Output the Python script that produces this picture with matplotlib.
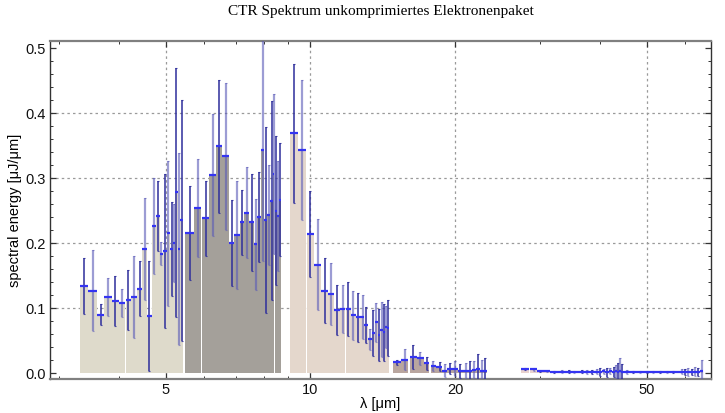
import numpy as np
import matplotlib
matplotlib.use('Agg')
import matplotlib.pyplot as plt
from matplotlib.ticker import FixedLocator, MultipleLocator, NullFormatter, FormatStrFormatter

# wavelength [um], spectral energy [uJ/um] and its uncertainty, per detector block
lam1 = [3.387, 3.530, 3.667, 3.798, 3.934, 4.060, 4.186, 4.299, 4.418, 4.525, 4.628,
        4.730, 4.821, 4.900, 4.985, 5.067, 5.147, 5.214, 5.264, 5.330, 5.399]
val1 = [0.134, 0.127, 0.090, 0.117, 0.111, 0.108, 0.112, 0.117, 0.130, 0.191, 0.088,
        0.227, 0.242, 0.184, 0.188, 0.215, 0.191, 0.200, 0.278, 0.191, 0.235]
err1 = [0.043, 0.062, 0.016, 0.029, 0.039, 0.021, 0.046, 0.063, 0.042, 0.078, 0.084,
        0.074, 0.054, 0.018, 0.119, 0.112, 0.073, 0.060, 0.191, 0.147, 0.185]
gap1 = [5]

lam2 = [5.610, 5.837, 6.056, 6.270, 6.465, 6.662, 6.855, 7.031, 7.214, 7.364, 7.543,
        7.689, 7.827, 7.951, 8.077, 8.193, 8.300, 8.392, 8.472, 8.541, 8.624]
val2 = [0.216, 0.254, 0.238, 0.305, 0.349, 0.334, 0.200, 0.212, 0.232, 0.247, 0.232,
        0.198, 0.240, 0.343, 0.235, 0.243, 0.265, 0.306, 0.250, 0.242, 0.267]
err2 = [0.072, 0.075, 0.057, 0.094, 0.102, 0.113, 0.066, 0.083, 0.050, 0.070, 0.075,
        0.070, 0.069, 0.170, 0.143, 0.077, 0.153, 0.123, 0.115, 0.085, 0.087]
gap2 = [1, 17]

lam3 = [9.251, 9.611, 9.986, 10.354, 10.707, 11.056, 11.360, 11.668, 11.973, 12.263, 12.560,
        12.837, 13.049, 13.301, 13.511, 13.705, 13.884, 14.058, 14.221, 14.329, 14.468]
val3 = [0.369, 0.343, 0.214, 0.167, 0.127, 0.122, 0.097, 0.099, 0.099, 0.089, 0.086,
        0.086, 0.074, 0.052, 0.062, 0.078, 0.058, 0.067, 0.063, 0.071, 0.070]
err3 = [0.107, 0.108, 0.066, 0.070, 0.050, 0.048, 0.038, 0.037, 0.042, 0.038, 0.038,
        0.034, 0.028, 0.016, 0.035, 0.030, 0.040, 0.042, 0.044, 0.032, 0.043]
gap3 = [1, 7]

lam4 = [15.13, 15.72, 16.33, 16.91, 17.46, 17.97, 18.55, 18.99, 19.52, 19.99, 20.47,
        21.00, 21.41, 21.89, 22.24, 22.71, 23.08]
val4 = [0.017, 0.021, 0.025, 0.023, 0.015, 0.011, 0.010, 0.004, 0.007, 0.007, 0.003,
        0.004, 0.004, 0.005, 0.007, 0.003, 0.004]
err4 = [0.004, 0.016, 0.018, 0.010, 0.010, 0.008, 0.007, 0.010, 0.009, 0.011, 0.011,
        0.012, 0.014, 0.013, 0.023, 0.017, 0.019]
gap4 = [1, 4]

lam5 = [27.93, 29.06, 30.01, 30.98, 31.98, 33.29, 34.36, 35.19, 36.63, 37.52, 38.42, 39.35,
        39.98, 40.61, 41.28, 41.93, 42.60, 43.15, 43.62, 43.98, 44.34, 45.41, 46.86, 48.38,
        49.95, 51.55, 53.23, 54.95, 56.72, 59.04, 59.98, 60.94, 61.93, 62.92, 63.92, 64.97]
val5 = [0.006, 0.006, 0.003, 0.003, 0.0025, 0.0025, 0.0025, 0.002, 0.0025, 0.002, 0.002, 0.002,
        0.0015, 0.003, 0.0015, 0.003, 0.002, 0.003, 0.002, 0.003, 0.002, 0.002, 0.002, 0.002,
        0.002, 0.002, 0.0015, 0.002, 0.002, 0.002, 0.002, 0.002, 0.002, 0.002, 0.002, 0.003]
err5 = [0.0015, 0.002, 0.001, 0.001, 0.0015, 0.002, 0.002, 0.002, 0.002, 0.003, 0.003, 0.004,
        0.006, 0.004, 0.007, 0.005, 0.008, 0.010, 0.014, 0.020, 0.012, 0.003, 0.002, 0.002,
        0.002, 0.002, 0.002, 0.002, 0.002, 0.004, 0.005, 0.006, 0.005, 0.007, 0.006, 0.018]
gap5 = [0]

blocks = [
    (lam1, val1, err1, gap1, '#dedacb'),
    (lam2, val2, err2, gap2, '#a4a09a'),
    (lam3, val3, err3, gap3, '#e4d7cc'),
    (lam4, val4, err4, gap4, '#b9a69f'),
    (lam5, val5, err5, gap5, '#e8d2ce'),
]


def bin_edges(lam, gaps, slit=0.0013):
    # histogram edges halfway (in log) between neighbouring channels
    c = np.log10(lam)
    mid = (c[1:] + c[:-1]) / 2
    left = np.concatenate([[c[0] - (c[1] - c[0]) / 2], mid])
    right = np.concatenate([mid, [c[-1] + (c[-1] - c[-2]) / 2]])
    for g in gaps:
        right[g] -= slit
        left[g + 1] += slit
    return 10 ** left, 10 ** right


fig = plt.figure(figsize=(7.25, 4.13), dpi=100)
ax = fig.add_axes([50 / 725, 1 - 379 / 413, 661 / 725, 338 / 413])
ax.set_xscale('log')

for lam, val, err, gaps, col in blocks:
    lam = np.array(lam)
    val = np.array(val)
    err = np.array(err)
    lo, hi = bin_edges(lam, gaps)
    ax.bar(lo, val, width=hi - lo, align='edge', color=col, edgecolor='none', zorder=2)
    even = np.arange(len(lam)) % 2 == 0
    ax.errorbar(lam[even], val[even], yerr=err[even], fmt='none', ecolor='#2e2e9c',
                elinewidth=1.3, capsize=0.8, capthick=0.8, alpha=0.85, zorder=3)
    ax.errorbar(lam[~even], val[~even], yerr=err[~even], fmt='none', ecolor='#5a5ab8',
                elinewidth=1.6, capsize=0.8, capthick=0.8, alpha=0.6, zorder=3)
    ax.hlines(val, lo, hi, colors='#3434f2', lw=1.6, zorder=4)

# dotted grid
for gx in [5, 10, 20, 50]:
    ax.axvline(gx, color='#9a9a9a', lw=0.9, ls=(0, (2, 2.5)), zorder=1)
for gy in [0.1, 0.2, 0.3, 0.4]:
    ax.axhline(gy, color='#9a9a9a', lw=0.9, ls=(0, (2, 2.5)), zorder=1)

ax.set_xlim(2.877, 67.9)
ax.set_ylim(-0.009, 0.511)

ax.xaxis.set_major_locator(FixedLocator([5, 10, 20, 50]))
ax.xaxis.set_major_formatter(FormatStrFormatter('%d'))
ax.xaxis.set_minor_locator(FixedLocator([3, 4, 6, 7, 8, 9, 30, 40, 60]))
ax.xaxis.set_minor_formatter(NullFormatter())
ax.yaxis.set_major_locator(MultipleLocator(0.1))
ax.yaxis.set_major_formatter(FormatStrFormatter('%.1f'))
ax.yaxis.set_minor_locator(MultipleLocator(0.02))

ax.tick_params(which='both', direction='in', top=True, right=True, color='#333333',
               labelsize=10.5, labelcolor='#111111')
ax.tick_params(which='major', length=4, width=0.9, pad=3)
ax.tick_params(which='minor', length=2, width=0.7)
for lab in ax.get_xticklabels() + ax.get_yticklabels():
    lab.set_family('Liberation Sans')

for side in ['top', 'bottom']:
    ax.spines[side].set_color('#808080')
    ax.spines[side].set_linewidth(1.6)
for side in ['left', 'right']:
    ax.spines[side].set_color('#333333')
    ax.spines[side].set_linewidth(1.0)

fig.text(380.5 / 725, 1 - 12 / 413, 'CTR Spektrum unkomprimiertes Elektronenpaket',
         ha='center', va='center', family='Liberation Serif', fontsize=11)
fig.text(15 / 725, 1 - 210 / 413, 'spectral energy [μJ/μm]', rotation=90,
         ha='center', va='center', family='Liberation Sans', fontsize=10.5)
fig.text(380.5 / 725, 1 - 404 / 413, 'λ [μm]', ha='center', va='center',
         family='Liberation Sans', fontsize=10.5)

fig.savefig('out.png', dpi=100)
